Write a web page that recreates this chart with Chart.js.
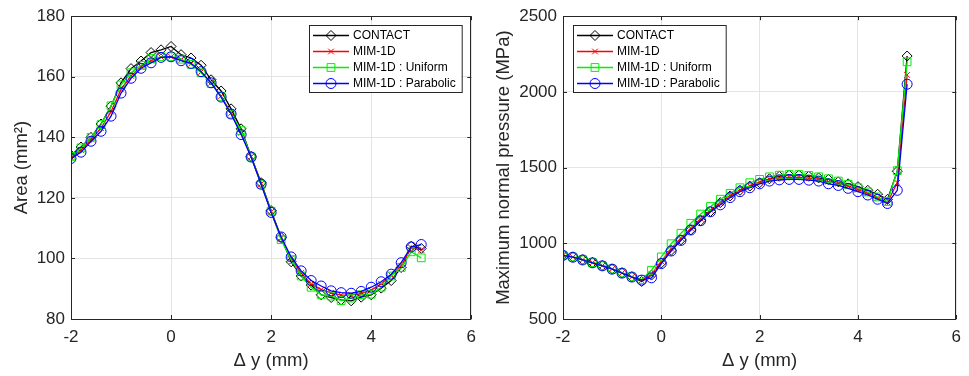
<!DOCTYPE html>
<html>
<head>
<meta charset="utf-8">
<script src="https://cdn.jsdelivr.net/npm/chart.js@4.4.1/dist/chart.umd.min.js"></script>
<style>
  body { margin: 0; background: #fff; width: 969px; height: 376px; overflow: hidden; position: relative; }
  .panel { position: absolute; top: 0; height: 376px; }
  #left { left: 0; width: 484px; }
  #right { left: 484px; width: 485px; }
</style>
</head>
<body>
<div class="panel" id="left"><canvas id="area-chart"></canvas></div>
<div class="panel" id="right"><canvas id="pressure-chart"></canvas></div>
<script>
// shared x positions (mm)
const dy = [-2, -1.8, -1.6, -1.4, -1.2, -1, -0.8, -0.6, -0.4, -0.2, 0, 0.2, 0.4, 0.6, 0.8, 1, 1.2, 1.4, 1.6, 1.8,
  2, 2.2, 2.4, 2.6, 2.8, 3, 3.2, 3.4, 3.6, 3.8, 4, 4.2, 4.4, 4.6, 4.8, 5];

const seriesNames = ['CONTACT', 'MIM-1D', 'MIM-1D : Uniform', 'MIM-1D : Parabolic'];

// contact area (mm^2)
const areaContact = [134.1, 136.8, 140.0, 144.4, 150.3, 158.0, 162.7, 165.2, 168.0, 168.9, 170.0, 167.3, 166.2, 163.8, 159.0, 155.3, 149.4, 142.8, 133.7, 125.0,
  115.8, 106.9, 98.9, 94.2, 91.2, 88.0, 87.1, 86.3, 86.0, 87.2, 88.0, 90.2, 92.7, 97.0, 104.0, 103.3];
const areaMim = [133.3, 135.8, 139.3, 143.0, 148.5, 155.8, 160.3, 163.3, 165.3, 166.5, 166.6, 165.6, 164.3, 161.6, 158.0, 153.6, 148.0, 141.5, 133.6, 124.6,
  115.4, 106.7, 100.0, 95.2, 91.6, 89.7, 88.6, 87.9, 88.0, 88.4, 89.5, 91.6, 94.5, 97.6, 103.5, 102.8];
const areaUniform = [133.7, 136.5, 140.0, 144.2, 150.4, 157.3, 161.3, 163.8, 166.0, 166.6, 166.6, 165.8, 164.1, 161.3, 157.8, 153.5, 147.7, 142.2, 133.5, 124.5,
  115.6, 106.2, 99.6, 94.2, 90.5, 88.0, 87.6, 86.1, 86.9, 88.0, 88.2, 90.5, 94.2, 97.0, 102.2, 100.2];
const areaParabolic = [133.0, 135.1, 138.7, 142.0, 147.0, 154.6, 159.5, 162.8, 164.6, 166.4, 166.6, 165.3, 164.4, 161.7, 158.0, 153.3, 147.7, 140.9, 133.5, 124.5,
  115.2, 107.1, 100.5, 95.9, 92.7, 90.9, 89.3, 88.7, 88.5, 89.1, 90.5, 92.3, 94.8, 98.6, 103.8, 104.6];

// max normal pressure (MPa)
const presContact = [921, 910, 892, 873, 853, 831, 805, 779, 748, 790, 870, 953, 1023, 1088, 1149, 1210, 1269, 1313, 1350, 1378,
  1400, 1426, 1443, 1450, 1450, 1443, 1432, 1422, 1406, 1393, 1374, 1350, 1324, 1290, 1476, 2237];
const presMim = [920, 909, 891, 872, 852, 830, 804, 778, 755, 795, 880, 965, 1035, 1100, 1162, 1220, 1268, 1315, 1352, 1380,
  1405, 1422, 1432, 1436, 1436, 1430, 1423, 1408, 1395, 1377, 1355, 1330, 1300, 1270, 1400, 2112];
const presUniform = [921, 909, 891, 872, 852, 830, 804, 778, 761, 822, 910, 997, 1066, 1132, 1193, 1243, 1291, 1330, 1367, 1400,
  1422, 1439, 1450, 1454, 1454, 1448, 1439, 1426, 1411, 1389, 1367, 1339, 1306, 1276, 1480, 2199];
const presParabolic = [920, 908, 890, 871, 851, 829, 803, 777, 757, 772, 866, 949, 1019, 1088, 1149, 1208, 1254, 1302, 1341, 1367,
  1393, 1411, 1419, 1422, 1422, 1417, 1411, 1393, 1382, 1363, 1341, 1319, 1291, 1263, 1350, 2051];

const xTicks = [-2, 0, 2, 4, 6];
const areaTicks = [80, 100, 120, 140, 160, 180];
const presTicks = [500, 1000, 1500, 2000, 2500];

const colors = ['#000000', '#ff0000', '#00f000', '#0000ff'];
const markers = ['rectRot', 'crossRot', 'rect', 'circle'];
const radii = [5, 4, 5.5, 5];

const FONT = "'Liberation Sans', Arial, Helvetica, sans-serif";
const INK = '#262626';

function drawMarker(ctx, style, x, y, r) {
  ctx.beginPath();
  if (style === 'circle') {
    ctx.arc(x, y, r, 0, Math.PI * 2);
  } else if (style === 'rectRot') {
    ctx.moveTo(x, y - r); ctx.lineTo(x + r, y); ctx.lineTo(x, y + r); ctx.lineTo(x - r, y); ctx.closePath();
  } else if (style === 'rect') {
    const s = r * Math.SQRT1_2;
    ctx.rect(x - s, y - s, 2 * s, 2 * s);
  } else if (style === 'crossRot') {
    const s = r * Math.SQRT1_2;
    ctx.moveTo(x - s, y - s); ctx.lineTo(x + s, y + s);
    ctx.moveTo(x + s, y - s); ctx.lineTo(x - s, y + s);
  }
  ctx.stroke();
}

// matlab style box with inward ticks
const boxPlugin = {
  id: 'mBox',
  afterDatasetsDraw(chart) {
    const { ctx, chartArea: a, scales } = chart;
    ctx.save();
    ctx.strokeStyle = INK;
    ctx.lineWidth = 1;
    ctx.strokeRect(Math.round(a.left) + 0.5, Math.round(a.top) + 0.5, Math.round(a.right - a.left) - 1, Math.round(a.bottom - a.top));
    ctx.beginPath();
    scales.x.ticks.forEach(t => {
      const px = Math.round(scales.x.getPixelForValue(t.value)) + 0.5;
      ctx.moveTo(px, a.bottom); ctx.lineTo(px, a.bottom - 4);
      ctx.moveTo(px, a.top); ctx.lineTo(px, a.top + 4);
    });
    scales.y.ticks.forEach(t => {
      const py = Math.round(scales.y.getPixelForValue(t.value)) + 0.5;
      ctx.moveTo(a.left, py); ctx.lineTo(a.left + 4, py);
      ctx.moveTo(a.right, py); ctx.lineTo(a.right - 4, py);
    });
    ctx.stroke();
    ctx.restore();
  }
};

// legend box inside the axes
const legendPlugin = {
  id: 'boxLegend',
  afterDraw(chart, args, opts) {
    const { ctx, chartArea: a } = chart;
    const sets = chart.data.datasets;
    ctx.save();
    ctx.font = '12px ' + FONT;
    const tw = Math.max(...sets.map(d => ctx.measureText(d.label).width));
    const w = 44 + tw + 6;
    const h = sets.length * 16 + 3;
    const bx = opts.side === 'right' ? Math.round(a.right - opts.dx - w) : Math.round(a.left + opts.dx);
    const by = Math.round(a.top + opts.dy);
    ctx.fillStyle = '#fff';
    ctx.fillRect(bx, by, w, h);
    ctx.strokeStyle = INK;
    ctx.lineWidth = 1;
    ctx.strokeRect(bx + 0.5, by + 0.5, w, h);
    sets.forEach((d, i) => {
      const y = by + 10 + i * 16;
      ctx.strokeStyle = d.borderColor;
      ctx.lineWidth = d.borderWidth;
      ctx.beginPath();
      ctx.moveTo(bx + 4, y + 0.5); ctx.lineTo(bx + 40, y + 0.5);
      ctx.stroke();
      ctx.lineWidth = 1;
      drawMarker(ctx, d.pointStyle, bx + 22, y + 0.5, d.pointRadius);
      ctx.fillStyle = '#000';
      ctx.textBaseline = 'middle';
      ctx.fillText(d.label, bx + 44, y + 1);
    });
    ctx.restore();
  }
};

function makeDatasets(list) {
  return list.map((vals, i) => ({
    label: seriesNames[i],
    data: dy.map((x, j) => ({ x, y: vals[j] })),
    borderColor: colors[i],
    borderWidth: 1.3,
    pointStyle: markers[i],
    pointRadius: radii[i],
    pointBorderColor: colors[i],
    pointBackgroundColor: 'rgba(0,0,0,0)',
    pointBorderWidth: 1,
    tension: 0,
    order: list.length - 1 - i
  }));
}

function makeChart(id, list, yTicks, yTitle, yWidth, pad, legendSide, titlePad) {
  return new Chart(document.getElementById(id), {
    type: 'line',
    data: { datasets: makeDatasets(list) },
    plugins: [boxPlugin, legendPlugin],
    options: {
      responsive: true,
      maintainAspectRatio: false,
      animation: false,
      layout: { padding: pad },
      plugins: {
        legend: { display: false },
        tooltip: { enabled: false },
        boxLegend: { side: legendSide, dx: 10, dy: 9 }
      },
      scales: {
        x: {
          type: 'linear',
          min: xTicks[0], max: xTicks[xTicks.length - 1],
          afterBuildTicks: s => { s.ticks = xTicks.map(v => ({ value: v })); },
          afterFit: s => { s.height = 57; },
          ticks: { color: INK, font: { family: FONT, size: 17 }, padding: 8, maxRotation: 0, callback: v => String(v) },
          grid: { color: '#e4e4e4', drawTicks: false },
          border: { display: false },
          title: { display: true, text: 'Δ y (mm)', color: INK, font: { family: FONT, size: 18.5 }, padding: { top: 0, bottom: 4 } }
        },
        y: {
          min: yTicks[0], max: yTicks[yTicks.length - 1],
          afterBuildTicks: s => { s.ticks = yTicks.map(v => ({ value: v })); },
          afterFit: s => { s.width = yWidth; },
          ticks: { color: INK, font: { family: FONT, size: 17 }, padding: 6, callback: v => String(v) },
          grid: { color: '#e4e4e4', drawTicks: false },
          border: { display: false },
          title: { display: true, text: yTitle, color: INK, font: { family: FONT, size: 18.5 }, padding: { top: titlePad, bottom: 0 } }
        }
      }
    }
  });
}

makeChart('area-chart', [areaContact, areaMim, areaUniform, areaParabolic], areaTicks, 'Area (mm²)', 71,
  { top: 14, right: 11, left: 0, bottom: 0 }, 'right', 11);
makeChart('pressure-chart', [presContact, presMim, presUniform, presParabolic], presTicks, 'Maximum normal pressure (MPa)', 79,
  { top: 13, right: 9, left: 0, bottom: 0 }, 'left', 9);
</script>
</body>
</html>
